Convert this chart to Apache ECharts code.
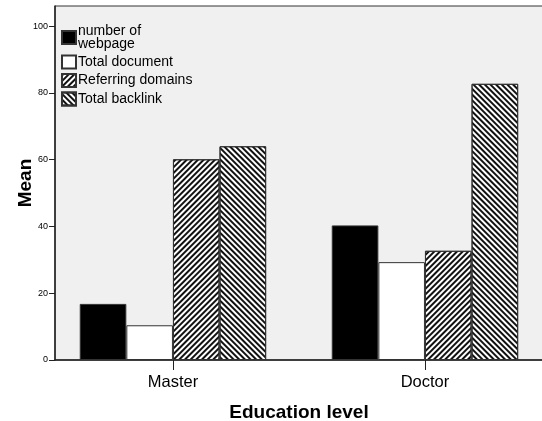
<!DOCTYPE html>
<html>
<head>
<meta charset="utf-8">
<script src="https://cdn.jsdelivr.net/npm/echarts@6/dist/echarts.min.js"></script>
<style>
  html, body { margin: 0; padding: 0; background: #fff; }
  #chart1 { width: 542px; height: 421px; }
</style>
</head>
<body>
<div id="chart1"></div>
<script>
  var levels = ['Master', 'Doctor'];
  var seriesNames = ['number of\nwebpage', 'Total document', 'Referring domains', 'Total backlink'];
  var webpageList = [16.8, 40.3];
  var documentList = [10.4, 29.3];
  var domainList = [60.1, 32.7];
  var backlinkList = [64.0, 82.7];
  var yTicks = [0, 20, 40, 60, 80, 100];

  // 막대 데이터: x 위치는 범주 순번
  const toPoints = list => list.map((v, i) => [i, v]);

  const hatch = rot => ({
    symbol: 'rect',
    symbolSize: 1,
    dashArrayX: [1, 0],
    dashArrayY: [2, 2],
    rotation: rot,
    color: '#111'
  });

  const getEduChart = chartId => {
    let myChart = echarts.init(document.getElementById(chartId));
    let option;

    const barStyle = (fill, decal) => {
      let s = { color: fill, borderColor: '#333', borderWidth: 1 };
      if (decal) s.decal = decal;
      return s;
    };

    const lists = [webpageList, documentList, domainList, backlinkList];
    const styles = [
      barStyle('#000'),
      barStyle('#fff'),
      barStyle('#fff', hatch(-Math.PI / 4)),
      barStyle('#fff', hatch(Math.PI / 4))
    ];

    option = {
      animation: false,
      textStyle: { fontFamily: 'Arial, "Liberation Sans", sans-serif' },
      legend: {
        orient: 'vertical',
        left: 56,
        top: 19,
        itemWidth: 14,
        itemHeight: 13,
        itemGap: 3.5,
        icon: 'rect',
        data: seriesNames,
        textStyle: { fontSize: 14, color: '#000', lineHeight: 13, padding: [0, 0, 0, -3] }
      },
      grid: {
        left: 55,
        top: 6,
        width: 500,
        bottom: 61,
        outerBoundsMode: 'none',
        containLabel: false,
        show: true,
        backgroundColor: '#f0f0f0',
        borderColor: '#333',
        borderWidth: 1
      },
      xAxis: {
        type: 'value',
        min: -0.468,
        max: 1.516,
        name: 'Education level',
        nameLocation: 'middle',
        nameGap: 43,
        nameMoveOverlap: false,
        nameTextStyle: { fontSize: 19, fontWeight: 'bold', color: '#000', padding: [0, 12, 0, 0] },
        splitLine: { show: false },
        axisLine: { show: true, lineStyle: { color: '#222', width: 1.5 } },
        axisTick: { show: true, length: 10, customValues: [0, 1], lineStyle: { color: '#222' } },
        axisLabel: {
          customValues: [0, 1],
          formatter: v => levels[Math.round(v)],
          fontSize: 16.5,
          color: '#000',
          margin: 14
        }
      },
      yAxis: {
        type: 'value',
        min: 0,
        max: 106,
        interval: 20,
        name: 'Mean',
        nameLocation: 'middle',
        nameGap: 20,
        nameMoveOverlap: false,
        nameTextStyle: { fontSize: 19, fontWeight: 'bold', color: '#000' },
        splitLine: { show: false },
        axisLine: { show: true, onZero: false, lineStyle: { color: '#222', width: 1.5 } },
        axisTick: { show: true, length: 6, customValues: yTicks, lineStyle: { color: '#222' } },
        axisLabel: {
          customValues: yTicks,
          fontSize: 9,
          color: '#000',
          margin: 7
        }
      },
      series: lists.map((list, i) => ({
        name: seriesNames[i],
        type: 'bar',
        barWidth: 46.6,
        barGap: '0%',
        itemStyle: styles[i],
        data: toPoints(list)
      }))
    };

    option && myChart.setOption(option);
  };

  getEduChart('chart1');
</script>
</body>
</html>
